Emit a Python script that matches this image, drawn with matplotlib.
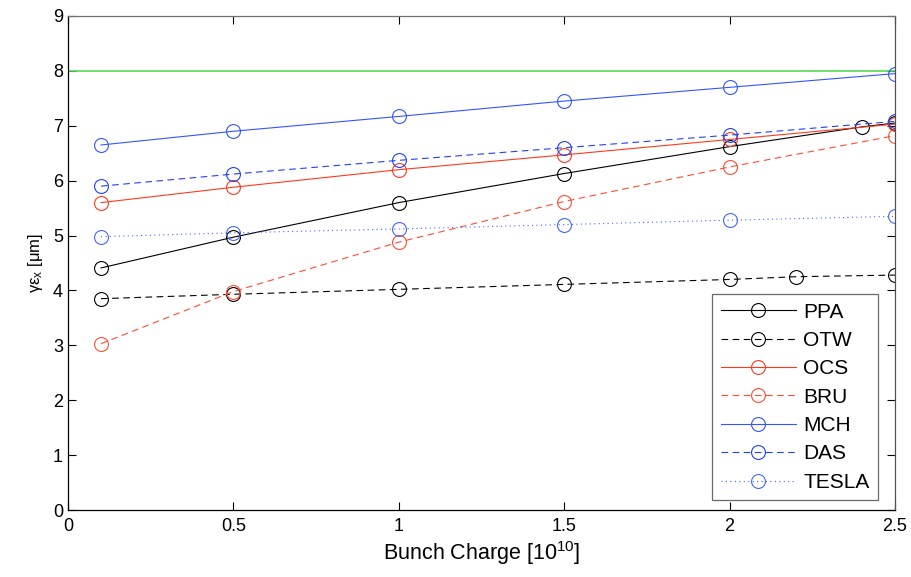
import matplotlib
matplotlib.use("Agg")
import matplotlib.pyplot as plt

plt.rcParams['font.family'] = ['Liberation Sans', 'DejaVu Sans']
plt.rcParams['mathtext.fontset'] = 'custom'
plt.rcParams['mathtext.rm'] = 'Liberation Sans'
plt.rcParams['mathtext.it'] = 'Liberation Sans:italic'

x_main = [0.1, 0.5, 1.0, 1.5, 2.0, 2.5]
x_ppa = [0.1, 0.5, 1.0, 1.5, 2.0, 2.4, 2.5]
x_otw = [0.1, 0.5, 1.0, 1.5, 2.0, 2.2, 2.5]

ppa = [4.41, 4.97, 5.60, 6.13, 6.62, 6.98, 7.05]
otw = [3.85, 3.93, 4.02, 4.11, 4.20, 4.25, 4.28]
ocs = [5.60, 5.88, 6.20, 6.47, 6.75, 7.03]
bru = [3.03, 3.98, 4.88, 5.62, 6.25, 6.82]
mch = [6.65, 6.90, 7.17, 7.45, 7.70, 7.95]
das = [5.90, 6.12, 6.37, 6.60, 6.83, 7.08]
tesla = [4.98, 5.05, 5.12, 5.20, 5.28, 5.35]
limit_y = 8.0
limit_x = [0.0, 2.5]

fig = plt.figure(figsize=(9.11, 5.77), dpi=100)
ax = fig.add_axes([0.0746, 0.1161, 0.9078, 0.8562])

red = '#ff3a1c'
red2 = '#ff4d33'
blue = '#3355ff'
blue2 = '#2040ff'
blue3 = '#4466ff'
ms = 10
mk = dict(marker='o', markerfacecolor='none', markersize=ms, markeredgewidth=0.8)

ax.plot(limit_x, [limit_y, limit_y], color='#55dd55', lw=1.2)
ax.plot(x_ppa, ppa, color='black', ls='-', lw=0.8, label='PPA', **mk)
ax.plot(x_otw, otw, color='black', ls=(0, (6, 4)), lw=0.8, label='OTW', **mk)
ax.plot(x_main, ocs, color=red, ls='-', lw=0.8, label='OCS', **mk)
ax.plot(x_main, bru, color=red2, ls=(0, (6, 4)), lw=0.8, label='BRU', **mk)
ax.plot(x_main, mch, color=blue, ls='-', lw=0.8, label='MCH', **mk)
ax.plot(x_main, das, color=blue2, ls=(0, (6, 4)), lw=0.8, label='DAS', **mk)
ax.plot(x_main, tesla, color=blue3, ls=(0, (1, 3)), lw=0.8, label='TESLA', **mk)

ax.set_xlim(0, 2.5)
ax.set_ylim(0, 9)
ax.set_xticks([0, 0.5, 1, 1.5, 2, 2.5])
ax.set_xticklabels(['0', '0.5', '1', '1.5', '2', '2.5'])
ax.set_yticks(range(0, 10))
ax.tick_params(direction='in', top=True, right=True, labelsize=13, length=6, width=0.8)
ax.tick_params(axis='x', pad=6)
for s in ax.spines.values():
    s.set_linewidth(0.9)
ax.spines['top'].set_color('#707070')
ax.spines['right'].set_color('#505050')

ax.set_xlabel(r'Bunch Charge [10$^{10}$]', fontsize=15.5, labelpad=3)
ax.set_ylabel(r'$\mathregular{\gamma\epsilon_x}$ [$\mathregular{\mu}$m]', fontsize=12, labelpad=6)

leg = ax.legend(loc='lower right', fontsize=15, frameon=True, fancybox=False,
                edgecolor='#444444', handlelength=3.6, handletextpad=0.35,
                borderpad=0.4, labelspacing=0.45, borderaxespad=0,
                bbox_to_anchor=(0.979, 0.02))
leg.get_frame().set_linewidth(0.9)

fig.savefig('out.png', dpi=100, facecolor='white')
